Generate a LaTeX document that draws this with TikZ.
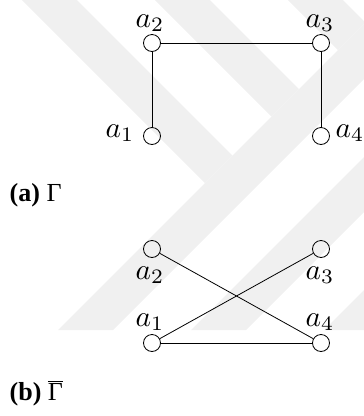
\documentclass[tikz,border=0pt]{standalone}
\usepackage{graphicx}
\usepackage{fontspec}
\setmainfont{Liberation Serif}
\newcommand{\biglbl}[1]{\scalebox{2.95}{$#1$}}
\tikzset{
  vtx/.style={circle, draw, minimum size=17bp, inner sep=0pt, line width=0.8bp},
  lbl/.style={anchor=base, inner sep=0pt},
  captxt/.style={anchor=base west, inner sep=0pt, font=\fontsize{26bp}{30bp}\selectfont},
  edge/.style={line width=0.8bp},
  wm/.style={fill=black!6, draw=none}
}
\begin{document}
\begin{tikzpicture}[x=1bp,y=-1bp]
\useasboundingbox (0,0) rectangle (364,416);
% faint watermark bands
\begin{scope}
\clip (0,0) rectangle (364,416);
\fill[wm] (22,0) -- (77,0) -- (232.5,155.5) -- (205,183) -- cycle;
\fill[wm] (155,0) -- (210,0) -- (299,89) -- (271.5,116.5) -- cycle;
\fill[wm] (288,0) -- (343,0) -- (365.5,22.5) -- (338,50) -- cycle;
\fill[wm] (58,330) -- (113,330) -- (443,0) -- (388,0) -- cycle;
\fill[wm] (191,330) -- (246,330) -- (576,0) -- (521,0) -- cycle;
\fill[wm] (324,330) -- (379,330) -- (709,0) -- (654,0) -- cycle;
\end{scope}
% (a) Gamma
\node[vtx] (ta1) at (152,136) {};
\node[vtx] (ta2) at (152,43) {};
\node[vtx] (ta3) at (321,43) {};
\node[vtx] (ta4) at (321,136) {};
\draw[edge] (ta1) -- (ta2);
\draw[edge] (ta2) -- (ta3);
\draw[edge] (ta3) -- (ta4);
\node[lbl] (tl2) at (150,27) {\biglbl{a_2}};
\node[lbl] (tl3) at (320,27) {\biglbl{a_3}};
\node[lbl] (tl1) at (120,137) {\biglbl{a_1}};
\node[lbl] (tl4) at (350,137) {\biglbl{a_4}};
\node[captxt] (capa) at (9.5,201) {\textbf{(a)} Γ};
% (b) complement
\node[vtx] (ba1) at (152,343) {};
\node[vtx] (ba2) at (152,249) {};
\node[vtx] (ba3) at (321,249) {};
\node[vtx] (ba4) at (321,343) {};
\draw[edge] (ba2) -- (ba4);
\draw[edge] (ba3) -- (ba1);
\draw[edge] (ba1) -- (ba4);
\node[lbl] (bl2) at (150,279.5) {\biglbl{a_2}};
\node[lbl] (bl3) at (320,279.5) {\biglbl{a_3}};
\node[lbl] (bl1) at (150,326) {\biglbl{a_1}};
\node[lbl] (bl4) at (320,326) {\biglbl{a_4}};
\node[captxt] (capb) at (9.5,400) {\textbf{(b)} $\overline{\hbox{Γ}}$};
\end{tikzpicture}
\end{document}
